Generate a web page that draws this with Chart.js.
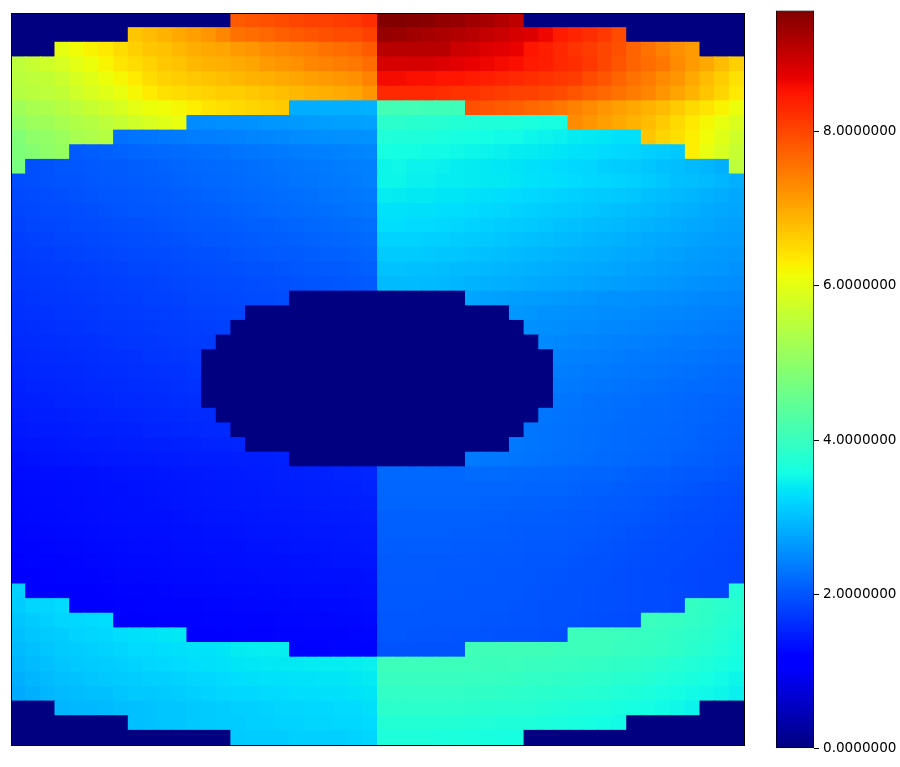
<!DOCTYPE html>
<html>
<head>
<meta charset="utf-8">
<script src="https://cdn.jsdelivr.net/npm/chart.js@4"></script>
<style>
body { margin: 0; background: #fff; }
#map { position: absolute; left: 11px; top: 13px; }
#frame { position: absolute; left: 11px; top: 13px; width: 734px; height: 733px; box-sizing: border-box; border: 1px solid #000; }
#bar { position: absolute; left: 0; top: 0; }
</style>
</head>
<body>
<canvas id="map" width="733" height="732"></canvas>
<div id="frame"></div>
<canvas id="bar" width="900" height="767"></canvas>
<script>
// values, one list per row of cells, top row first. 0 = masked
const row00 = [0,0,0,0,0,0,0,0,0,0,0,0,0,0,0,7.8,7.85,7.9,7.95,8.0,8.05,8.05,8.1,8.15,8.25,9.55,9.55,9.52,9.5,9.42,9.38,9.3,9.25,9.15,9.05,0,0,0,0,0,0,0,0,0,0,0,0,0,0,0];
const row01 = [0,0,0,0,0,0,0,0,6.7,6.8,6.9,7.0,7.1,7.2,7.35,7.55,7.6,7.65,7.75,7.8,7.85,7.9,7.95,7.95,8.05,9.38,9.35,9.3,9.25,9.2,9.15,9.1,9.0,8.95,8.85,8.8,8.65,8.45,8.35,8.25,8.15,7.95,0,0,0,0,0,0,0,0];
const row02 = [0,0,0,6.03,6.15,6.25,6.35,6.48,6.6,6.7,6.75,6.85,6.95,7.0,7.05,7.15,7.2,7.3,7.35,7.4,7.45,7.55,7.6,7.65,7.8,9.1,9.1,9.1,9.1,9.1,8.95,8.9,8.8,8.75,8.7,8.5,8.4,8.3,8.2,8.1,8.0,7.9,7.7,7.55,7.4,7.25,7.15,0,0,0];
const row03 = [5.55,5.65,5.75,5.85,6.0,6.1,6.23,6.38,6.48,6.58,6.68,6.73,6.84,6.89,6.94,6.99,7.04,7.14,7.19,7.24,7.34,7.39,7.44,7.49,7.6,8.85,8.85,8.85,8.85,8.8,8.75,8.7,8.65,8.6,8.55,8.45,8.4,8.3,8.25,8.15,8.0,7.85,7.7,7.6,7.5,7.3,7.15,7.0,6.8,6.6];
const row04 = [5.5,5.55,5.6,5.7,5.85,5.95,6.1,6.2,6.33,6.48,6.58,6.63,6.68,6.73,6.78,6.84,6.89,6.94,6.99,7.04,7.09,7.14,7.19,7.24,7.39,8.6,8.6,8.55,8.55,8.5,8.5,8.45,8.4,8.35,8.3,8.25,8.2,8.15,8.1,7.95,7.85,7.7,7.55,7.45,7.3,7.2,7.0,6.8,6.63,6.43];
const row05 = [5.45,5.5,5.55,5.6,5.75,5.85,5.95,6.05,6.2,6.33,6.43,6.48,6.53,6.58,6.63,6.63,6.68,6.73,6.78,6.84,6.89,6.94,6.99,7.04,7.19,8.3,8.3,8.3,8.3,8.25,8.2,8.2,8.15,8.1,8.05,8.05,8.0,7.95,7.85,7.75,7.65,7.55,7.45,7.35,7.2,7.05,6.9,6.7,6.55,6.35];
const row06 = [5.2,5.3,5.35,5.45,5.55,5.65,5.75,5.85,6.0,6.1,6.15,6.2,6.3,6.4,6.45,6.5,6.55,6.6,6.65,2.82,2.82,2.84,2.84,2.84,2.86,4.12,4.1,4.1,4.08,4.08,4.05,7.9,7.85,7.8,7.75,7.65,7.6,7.5,7.4,7.3,7.2,7.1,7.0,6.9,6.8,6.65,6.5,6.4,6.25,6.1];
const row07 = [5.05,5.15,5.2,5.3,5.4,5.45,5.55,5.65,5.75,5.85,5.95,6.05,2.5,2.52,2.55,2.55,2.58,2.6,2.62,2.64,2.66,2.68,2.7,2.7,2.72,3.85,3.85,3.82,3.8,3.78,3.75,3.72,3.7,3.7,3.68,3.65,3.62,3.6,7.3,7.2,7.1,7.0,6.9,6.8,6.65,6.5,6.35,6.2,6.05,5.9];
const row08 = [4.85,5.0,5.05,5.15,5.3,5.35,5.45,2.25,2.28,2.3,2.32,2.35,2.38,2.38,2.4,2.42,2.44,2.46,2.48,2.5,2.52,2.54,2.56,2.56,2.58,3.72,3.7,3.7,3.68,3.65,3.62,3.6,3.58,3.55,3.55,3.5,3.48,3.45,3.4,3.38,3.35,3.3,3.3,6.7,6.55,6.45,6.3,6.15,5.95,5.75];
const row09 = [4.8,4.9,5.0,5.1,2.05,2.08,2.1,2.12,2.14,2.16,2.18,2.2,2.22,2.24,2.26,2.28,2.3,2.32,2.34,2.36,2.38,2.4,2.42,2.44,2.46,3.6,3.58,3.58,3.55,3.55,3.52,3.5,3.48,3.45,3.42,3.4,3.38,3.35,3.32,3.3,3.25,3.22,3.2,3.15,3.12,3.08,6.3,6.05,5.85,5.65];
const row10 = [4.75,1.95,1.97,2.0,2.0,2.02,2.05,2.05,2.08,2.1,2.12,2.14,2.16,2.18,2.2,2.22,2.24,2.26,2.28,2.3,2.32,2.34,2.36,2.38,2.4,3.5,3.52,3.48,3.48,3.45,3.42,3.4,3.38,3.36,3.34,3.3,3.28,3.25,3.22,3.2,3.15,3.12,3.1,3.05,3.0,2.98,2.94,2.9,2.85,5.55];
const row11 = [1.92,1.94,1.96,1.98,1.98,2.0,2.02,2.04,2.06,2.08,2.1,2.12,2.14,2.16,2.18,2.2,2.22,2.24,2.26,2.28,2.3,2.32,2.34,2.36,2.4,3.5,3.5,3.45,3.45,3.42,3.42,3.4,3.38,3.38,3.35,3.32,3.3,3.28,3.25,3.22,3.2,3.18,3.15,3.1,3.05,3.0,2.98,2.95,2.9,2.85];
const row12 = [1.88,1.9,1.92,1.94,1.96,1.98,2.0,2.0,2.02,2.04,2.06,2.08,2.1,2.12,2.14,2.16,2.18,2.2,2.22,2.24,2.26,2.28,2.3,2.32,2.34,3.42,3.4,3.38,3.38,3.35,3.35,3.32,3.3,3.28,3.25,3.22,3.2,3.18,3.15,3.12,3.1,3.08,3.05,3.0,2.97,2.93,2.9,2.86,2.82,2.78];
const row13 = [1.85,1.87,1.89,1.9,1.92,1.94,1.96,1.98,2.0,2.0,2.02,2.04,2.06,2.08,2.1,2.12,2.14,2.16,2.18,2.2,2.22,2.24,2.26,2.28,2.3,3.32,3.32,3.3,3.3,3.28,3.28,3.25,3.22,3.2,3.18,3.15,3.12,3.1,3.08,3.05,3.02,3.0,2.97,2.94,2.9,2.87,2.84,2.8,2.77,2.74];
const row14 = [1.82,1.84,1.85,1.87,1.89,1.9,1.92,1.94,1.95,1.96,1.98,2.0,2.02,2.03,2.05,2.07,2.09,2.1,2.12,2.14,2.16,2.18,2.2,2.22,2.24,3.28,3.28,3.25,3.25,3.22,3.2,3.18,3.15,3.12,3.1,3.08,3.05,3.02,3.0,2.97,2.95,2.93,2.9,2.87,2.84,2.81,2.78,2.75,2.72,2.7];
const row15 = [1.78,1.8,1.82,1.84,1.85,1.87,1.88,1.9,1.92,1.93,1.95,1.96,1.98,2.0,2.01,2.03,2.05,2.07,2.08,2.1,2.12,2.14,2.15,2.17,2.19,3.18,3.18,3.18,3.15,3.15,3.12,3.1,3.08,3.05,3.02,3.0,2.98,2.95,2.93,2.9,2.88,2.86,2.83,2.8,2.78,2.75,2.73,2.7,2.68,2.66];
const row16 = [1.75,1.77,1.78,1.8,1.82,1.83,1.85,1.86,1.88,1.89,1.9,1.92,1.94,1.95,1.97,1.99,2.0,2.02,2.04,2.05,2.07,2.09,2.1,2.12,2.14,3.1,3.1,3.1,3.08,3.05,3.05,3.02,3.0,2.98,2.95,2.92,2.9,2.88,2.86,2.84,2.82,2.8,2.77,2.75,2.72,2.7,2.67,2.65,2.63,2.62];
const row17 = [1.72,1.73,1.75,1.76,1.78,1.79,1.8,1.82,1.84,1.85,1.87,1.88,1.9,1.91,1.93,1.95,1.96,1.97,1.99,2.0,2.02,2.04,2.05,2.07,2.09,3.02,3.02,3.0,3.0,2.98,2.96,2.94,2.92,2.9,2.88,2.86,2.84,2.82,2.8,2.78,2.76,2.74,2.72,2.7,2.67,2.65,2.63,2.61,2.6,2.58];
const row18 = [1.7,1.71,1.72,1.73,1.75,1.76,1.78,1.79,1.8,1.82,1.83,1.85,1.86,1.88,1.89,1.9,1.92,1.93,1.95,1.96,1.98,1.99,2.0,2.02,2.04,2.96,2.96,2.95,2.94,2.92,2.9,2.88,2.86,2.84,2.82,2.8,2.78,2.76,2.74,2.72,2.7,2.68,2.66,2.63,2.61,2.59,2.57,2.55,2.54,2.52];
const row19 = [1.67,1.68,1.7,1.71,1.72,1.74,1.75,1.77,1.78,1.8,1.81,1.82,1.84,1.85,1.86,1.88,1.89,1.9,1.92,0,0,0,0,0,0,0,0,0,0,0,0,2.74,2.72,2.7,2.69,2.67,2.66,2.64,2.62,2.6,2.58,2.57,2.55,2.54,2.52,2.5,2.49,2.48,2.47,2.46];
const row20 = [1.65,1.66,1.67,1.69,1.7,1.71,1.73,1.74,1.75,1.77,1.78,1.79,1.81,1.82,1.83,1.84,0,0,0,0,0,0,0,0,0,0,0,0,0,0,0,0,0,0,2.62,2.6,2.58,2.57,2.55,2.54,2.52,2.51,2.5,2.48,2.46,2.45,2.44,2.42,2.41,2.4];
const row21 = [1.62,1.63,1.64,1.66,1.67,1.68,1.7,1.71,1.72,1.74,1.75,1.76,1.77,1.79,1.8,0,0,0,0,0,0,0,0,0,0,0,0,0,0,0,0,0,0,0,0,2.56,2.54,2.53,2.51,2.5,2.48,2.47,2.45,2.44,2.42,2.41,2.4,2.38,2.36,2.35];
const row22 = [1.59,1.6,1.62,1.63,1.64,1.65,1.67,1.68,1.7,1.71,1.72,1.73,1.75,1.76,0,0,0,0,0,0,0,0,0,0,0,0,0,0,0,0,0,0,0,0,0,0,2.49,2.47,2.46,2.44,2.43,2.41,2.4,2.38,2.37,2.35,2.34,2.32,2.31,2.3];
const row23 = [1.56,1.57,1.59,1.6,1.61,1.63,1.64,1.65,1.66,1.68,1.69,1.7,1.72,0,0,0,0,0,0,0,0,0,0,0,0,0,0,0,0,0,0,0,0,0,0,0,0,2.42,2.41,2.4,2.38,2.37,2.35,2.34,2.32,2.31,2.3,2.28,2.27,2.25];
const row24 = [1.53,1.55,1.56,1.57,1.58,1.6,1.61,1.62,1.64,1.65,1.66,1.67,1.69,0,0,0,0,0,0,0,0,0,0,0,0,0,0,0,0,0,0,0,0,0,0,0,0,2.38,2.37,2.35,2.34,2.32,2.31,2.3,2.28,2.27,2.25,2.24,2.22,2.2];
const row25 = [1.5,1.52,1.53,1.54,1.56,1.57,1.58,1.6,1.61,1.62,1.63,1.65,1.66,0,0,0,0,0,0,0,0,0,0,0,0,0,0,0,0,0,0,0,0,0,0,0,0,2.34,2.33,2.31,2.3,2.28,2.27,2.25,2.24,2.22,2.21,2.2,2.18,2.16];
const row26 = [1.48,1.49,1.5,1.52,1.53,1.54,1.55,1.57,1.58,1.59,1.6,1.62,1.63,0,0,0,0,0,0,0,0,0,0,0,0,0,0,0,0,0,0,0,0,0,0,0,0,2.3,2.29,2.27,2.26,2.24,2.23,2.21,2.2,2.18,2.17,2.15,2.14,2.12];
const row27 = [1.45,1.46,1.47,1.48,1.5,1.51,1.52,1.53,1.54,1.56,1.57,1.58,1.59,1.6,0,0,0,0,0,0,0,0,0,0,0,0,0,0,0,0,0,0,0,0,0,0,2.3,2.28,2.27,2.25,2.24,2.22,2.21,2.19,2.18,2.16,2.15,2.13,2.12,2.1];
const row28 = [1.42,1.43,1.44,1.45,1.47,1.48,1.49,1.5,1.51,1.52,1.53,1.55,1.56,1.57,1.58,0,0,0,0,0,0,0,0,0,0,0,0,0,0,0,0,0,0,0,0,2.3,2.28,2.27,2.25,2.24,2.22,2.21,2.19,2.18,2.16,2.15,2.13,2.11,2.1,2.08];
const row29 = [1.38,1.39,1.4,1.42,1.43,1.44,1.45,1.46,1.47,1.48,1.49,1.5,1.51,1.52,1.53,1.54,0,0,0,0,0,0,0,0,0,0,0,0,0,0,0,0,0,0,2.32,2.3,2.28,2.27,2.25,2.24,2.22,2.2,2.19,2.17,2.15,2.14,2.12,2.1,2.08,2.06];
const row30 = [1.35,1.36,1.37,1.38,1.39,1.4,1.41,1.42,1.43,1.44,1.45,1.45,1.46,1.47,1.47,1.48,1.49,1.49,1.5,0,0,0,0,0,0,0,0,0,0,0,0,2.34,2.32,2.31,2.3,2.28,2.27,2.25,2.24,2.22,2.2,2.19,2.17,2.15,2.13,2.11,2.1,2.08,2.05,2.02];
const row31 = [1.3,1.31,1.32,1.33,1.34,1.35,1.36,1.37,1.38,1.39,1.4,1.41,1.42,1.43,1.44,1.45,1.46,1.47,1.48,1.49,1.5,1.51,1.52,1.53,1.54,2.16,2.16,2.16,2.16,2.17,2.17,2.2,2.2,2.2,2.18,2.18,2.17,2.16,2.15,2.14,2.13,2.12,2.1,2.08,2.07,2.05,2.03,2.02,2.0,1.98];
const row32 = [1.28,1.29,1.3,1.31,1.32,1.33,1.34,1.35,1.36,1.37,1.38,1.39,1.4,1.41,1.42,1.43,1.44,1.45,1.46,1.47,1.48,1.49,1.5,1.51,1.52,2.15,2.15,2.15,2.15,2.15,2.15,2.15,2.15,2.15,2.15,2.14,2.14,2.13,2.12,2.1,2.09,2.08,2.06,2.05,2.03,2.0,1.99,1.97,1.95,1.94];
const row33 = [1.27,1.28,1.29,1.3,1.31,1.32,1.33,1.34,1.35,1.36,1.37,1.38,1.39,1.4,1.41,1.42,1.42,1.43,1.44,1.45,1.46,1.47,1.47,1.48,1.49,2.13,2.13,2.13,2.13,2.13,2.13,2.13,2.12,2.12,2.11,2.11,2.1,2.1,2.08,2.07,2.05,2.04,2.03,2.0,1.98,1.96,1.95,1.93,1.92,1.9];
const row34 = [1.26,1.27,1.28,1.29,1.3,1.31,1.32,1.33,1.34,1.34,1.35,1.36,1.37,1.38,1.39,1.39,1.4,1.41,1.42,1.42,1.43,1.44,1.45,1.45,1.46,2.1,2.1,2.1,2.1,2.1,2.1,2.1,2.09,2.09,2.08,2.08,2.07,2.06,2.05,2.04,2.02,2.01,2.0,1.98,1.96,1.94,1.92,1.91,1.89,1.88];
const row35 = [1.24,1.25,1.26,1.27,1.28,1.29,1.3,1.31,1.32,1.32,1.33,1.34,1.35,1.36,1.36,1.37,1.38,1.39,1.39,1.4,1.41,1.41,1.42,1.43,1.43,2.09,2.09,2.09,2.09,2.09,2.08,2.08,2.07,2.07,2.06,2.05,2.05,2.04,2.03,2.02,2.0,1.99,1.97,1.95,1.93,1.92,1.9,1.89,1.87,1.86];
const row36 = [1.22,1.23,1.24,1.25,1.26,1.27,1.28,1.29,1.3,1.3,1.31,1.32,1.33,1.34,1.34,1.35,1.36,1.36,1.37,1.38,1.38,1.39,1.4,1.4,1.41,2.07,2.06,2.07,2.07,2.07,2.06,2.06,2.05,2.05,2.04,2.03,2.03,2.02,2.0,1.99,1.98,1.97,1.95,1.93,1.92,1.9,1.89,1.87,1.86,1.85];
const row37 = [1.21,1.22,1.22,1.23,1.24,1.25,1.26,1.27,1.28,1.28,1.29,1.3,1.31,1.31,1.32,1.33,1.34,1.34,1.35,1.36,1.36,1.37,1.38,1.38,1.39,2.05,2.05,2.05,2.05,2.05,2.04,2.04,2.03,2.03,2.02,2.01,2.0,2.0,1.98,1.97,1.96,1.95,1.93,1.92,1.9,1.89,1.87,1.86,1.84,1.83];
const row38 = [1.2,1.2,1.21,1.22,1.22,1.23,1.24,1.25,1.25,1.26,1.27,1.28,1.28,1.29,1.3,1.3,1.31,1.32,1.32,1.33,1.34,1.34,1.35,1.35,1.36,2.04,2.04,2.04,2.04,2.03,2.03,2.02,2.02,2.01,2.0,2.0,1.99,1.98,1.97,1.96,1.95,1.93,1.92,1.9,1.89,1.87,1.86,1.85,1.84,1.83];
const row39 = [3.17,1.18,1.18,1.19,1.2,1.2,1.21,1.22,1.23,1.23,1.24,1.25,1.25,1.26,1.27,1.27,1.28,1.28,1.29,1.3,1.3,1.31,1.31,1.32,1.33,2.03,2.03,2.03,2.02,2.02,2.02,2.01,2.01,2.0,2.0,1.99,1.98,1.97,1.96,1.95,1.94,1.93,1.92,1.9,1.89,1.88,1.87,1.85,1.84,3.75];
const row40 = [3.12,3.2,3.2,3.25,1.2,1.2,1.2,1.21,1.21,1.22,1.22,1.23,1.23,1.24,1.24,1.25,1.25,1.26,1.26,1.27,1.27,1.28,1.28,1.29,1.3,2.02,2.02,2.02,2.01,2.01,2.01,2.0,2.0,2.0,1.99,1.98,1.97,1.97,1.96,1.95,1.94,1.93,1.91,1.9,1.89,1.87,3.95,3.9,3.85,3.8];
const row41 = [3.05,3.1,3.15,3.2,3.22,3.25,3.28,1.2,1.2,1.2,1.21,1.21,1.21,1.22,1.22,1.22,1.23,1.23,1.24,1.24,1.25,1.25,1.26,1.26,1.27,2.01,2.01,2.01,2.0,2.0,2.0,2.0,1.99,1.99,1.98,1.98,1.97,1.96,1.95,1.94,1.92,1.91,1.89,4.02,4.0,3.97,3.92,3.88,3.82,3.77];
const row42 = [3.0,3.05,3.1,3.12,3.18,3.2,3.22,3.28,3.3,3.32,3.35,3.38,1.2,1.2,1.2,1.21,1.21,1.21,1.22,1.22,1.22,1.23,1.23,1.24,1.24,2.0,2.0,1.99,1.99,1.99,1.98,1.98,1.98,1.97,1.97,1.96,1.95,1.94,4.05,4.05,4.05,4.02,4.0,3.97,3.95,3.9,3.87,3.83,3.77,3.7];
const row43 = [2.95,3.0,3.05,3.1,3.12,3.15,3.18,3.2,3.25,3.25,3.28,3.3,3.32,3.32,3.35,3.4,3.42,3.43,3.43,1.21,1.21,1.21,1.22,1.22,1.22,1.97,1.97,1.97,1.97,1.97,1.97,4.08,4.08,4.08,4.08,4.08,4.08,4.05,4.05,4.05,4.02,4.0,3.98,3.95,3.92,3.88,3.83,3.78,3.72,3.65];
const row44 = [2.9,2.95,3.0,3.05,3.08,3.1,3.12,3.15,3.18,3.2,3.22,3.25,3.28,3.3,3.32,3.35,3.36,3.37,3.38,3.38,3.4,3.42,3.42,3.43,3.45,4.05,4.05,4.05,4.05,4.05,4.05,4.05,4.03,4.03,4.02,4.0,4.0,3.98,3.97,3.95,3.93,3.9,3.88,3.85,3.8,3.77,3.72,3.68,3.63,3.58];
const row45 = [2.85,2.9,2.95,3.0,3.02,3.05,3.08,3.1,3.12,3.15,3.15,3.18,3.2,3.22,3.25,3.28,3.3,3.32,3.32,3.33,3.33,3.35,3.35,3.38,3.4,4.0,4.0,4.0,4.0,4.0,4.0,3.98,3.98,3.97,3.95,3.93,3.92,3.9,3.88,3.87,3.85,3.82,3.8,3.76,3.72,3.68,3.64,3.6,3.55,3.5];
const row46 = [2.8,2.85,2.9,2.95,2.97,3.0,3.0,3.05,3.08,3.08,3.1,3.12,3.15,3.18,3.2,3.22,3.22,3.25,3.25,3.28,3.28,3.3,3.3,3.33,3.35,3.92,3.92,3.92,3.92,3.92,3.92,3.9,3.9,3.88,3.87,3.85,3.83,3.82,3.8,3.78,3.76,3.72,3.7,3.66,3.62,3.58,3.55,3.52,3.5,3.45];
const row47 = [0,0,0,2.9,2.92,2.92,2.95,2.98,3.0,3.02,3.05,3.05,3.08,3.1,3.12,3.15,3.15,3.18,3.2,3.2,3.22,3.22,3.25,3.25,3.3,3.85,3.85,3.85,3.85,3.85,3.85,3.83,3.82,3.8,3.8,3.78,3.75,3.73,3.7,3.68,3.66,3.63,3.6,3.58,3.55,3.52,3.48,0,0,0];
const row48 = [0,0,0,0,0,0,0,0,3.0,3.02,3.05,3.05,3.08,3.1,3.12,3.12,3.15,3.15,3.18,3.18,3.2,3.2,3.22,3.22,3.25,3.75,3.75,3.75,3.75,3.75,3.75,3.73,3.72,3.7,3.7,3.68,3.66,3.65,3.63,3.6,3.58,3.55,0,0,0,0,0,0,0,0];
const row49 = [0,0,0,0,0,0,0,0,0,0,0,0,0,0,0,3.1,3.12,3.12,3.12,3.15,3.15,3.15,3.15,3.18,3.2,3.68,3.68,3.68,3.68,3.66,3.66,3.65,3.63,3.62,3.6,0,0,0,0,0,0,0,0,0,0,0,0,0,0,0];

const rows = [row00,row01,row02,row03,row04,row05,row06,row07,row08,row09,row10,row11,row12,row13,row14,row15,row16,row17,row18,row19,row20,row21,row22,row23,row24,row25,row26,row27,row28,row29,row30,row31,row32,row33,row34,row35,row36,row37,row38,row39,row40,row41,row42,row43,row44,row45,row46,row47,row48,row49];
const columns = row00.map((v, i) => i);

const colorMax = 9.57;
const colorTicks = [0, 2, 4, 6, 8];
const jetStops = [0, 0.11, 0.125, 0.34, 0.35, 0.375, 0.64, 0.65, 0.66, 0.89, 0.91, 1];

// same breakpoints as the usual jet map
function lerp(p, t) {
    for (var i = 1; i < p.length; i++) {
        if (t <= p[i][0]) {
            return p[i-1][1] + (p[i][1] - p[i-1][1]) * (t - p[i-1][0]) / (p[i][0] - p[i-1][0]);
        }
    }
    return p[p.length-1][1];
}
function jet(t) {
    var r = lerp([[0,0],[0.35,0],[0.66,1],[0.89,1],[1,0.5]], t);
    var g = lerp([[0,0],[0.125,0],[0.375,1],[0.64,1],[0.91,0],[1,0]], t);
    var b = lerp([[0,0.5],[0.11,1],[0.34,1],[0.65,0],[1,0]], t);
    return 'rgb(' + Math.round(r*255) + ',' + Math.round(g*255) + ',' + Math.round(b*255) + ')';
}

// each row is a dataset of unit cells, stacked bottom row first
var cellSets = rows.slice().reverse().map(function(row) {
    return {
        data: row.map(function() { return 1; }),
        backgroundColor: row.map(function(v) { return jet(v / colorMax); }),
        barPercentage: 1,
        categoryPercentage: 1,
        borderWidth: 0,
        inflateAmount: 0.5
    };
});

new Chart(document.getElementById('map').getContext('2d'), {
    type: 'bar',
    data: { labels: columns, datasets: cellSets },
    options: {
        responsive: false,
        animation: false,
        devicePixelRatio: 1,
        plugins: { legend: { display: false }, tooltip: { enabled: false } },
        scales: {
            x: { stacked: true, display: false },
            y: { stacked: true, display: false, min: 0, max: rows.length }
        }
    }
});

// colour bar
new Chart(document.getElementById('bar').getContext('2d'), {
    type: 'bar',
    data: {
        labels: ['v'],
        datasets: [{
            data: [[0, colorMax]],
            barPercentage: 1,
            categoryPercentage: 1,
            borderColor: '#000',
            borderWidth: 1,
            borderSkipped: false,
            backgroundColor: function(c) {
                var area = c.chart.chartArea;
                if (!area) return '#000';
                var grad = c.chart.ctx.createLinearGradient(0, area.bottom, 0, area.top);
                jetStops.forEach(function(s) { grad.addColorStop(s, jet(s)); });
                return grad;
            }
        }]
    },
    options: {
        responsive: false,
        animation: false,
        devicePixelRatio: 1,
        layout: { padding: { left: 776, top: 10.5, bottom: 18.5 } },
        plugins: { legend: { display: false }, tooltip: { enabled: false } },
        scales: {
            x: { display: false },
            y: {
                position: 'right',
                min: 0,
                max: colorMax,
                afterBuildTicks: function(s) { s.ticks = colorTicks.map(function(v) { return { value: v }; }); },
                afterFit: function(s) { s.width = 86; s.paddingTop = 0; s.paddingBottom = 0; },
                border: { display: false },
                grid: { drawOnChartArea: false, tickLength: 5, tickColor: '#000', tickWidth: 1 },
                ticks: {
                    color: '#000',
                    padding: 4,
                    font: { family: 'DejaVu Sans', size: 13.6 },
                    callback: function(v) { return v.toFixed(7); }
                }
            }
        }
    }
});
</script>
</body>
</html>
